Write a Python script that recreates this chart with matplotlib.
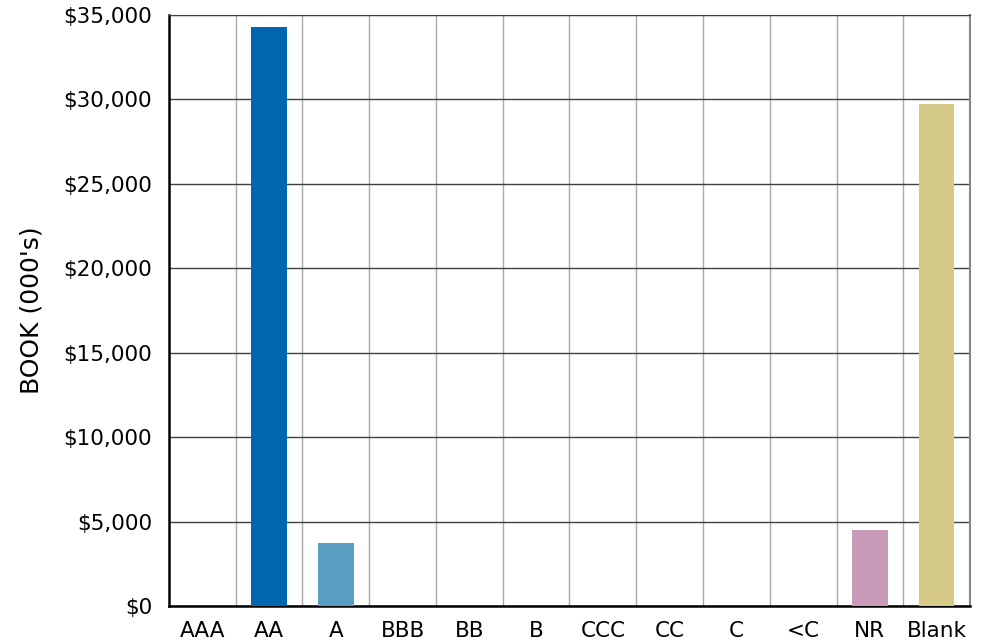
import numpy as np
import matplotlib.pyplot as plt
from matplotlib.ticker import FuncFormatter

categories = ["AAA", "AA", "A", "BBB", "BB", "B", "CCC", "CC", "C", "<C", "NR", "Blank"]
book_values = [0, 34300, 3750, 0, 0, 0, 0, 0, 0, 0, 4500, 29700]
bar_colors = ["#0066AD", "#0066AD", "#5A9EC1", "#0066AD", "#0066AD", "#0066AD",
              "#0066AD", "#0066AD", "#0066AD", "#0066AD", "#C89AB8", "#D4C987"]

plt.rcParams['font.family'] = ['DejaVu Sans']

fig = plt.figure(figsize=(9.84, 6.43), dpi=100)
ax = fig.add_axes([0.1717, 0.0575, 0.8141, 0.9192])

x = np.arange(len(categories))
ax.bar(x, book_values, width=0.53, color=bar_colors, zorder=3)

ax.set_xlim(-0.5, len(categories) - 0.5)
ax.set_ylim(0, 35000)
ax.set_yticks(np.arange(0, 35001, 5000))
ax.yaxis.set_major_formatter(FuncFormatter(lambda v, p: "${:,.0f}".format(v)))
ax.set_xticks(x)
ax.set_xticklabels(categories)
ax.set_xticks(np.arange(0.5, len(categories) - 0.5, 1), minor=True)

ax.grid(axis="y", which="major", color="#404040", linewidth=1.0, zorder=1)
ax.grid(axis="x", which="minor", color="#aaaaaa", linewidth=1.0, zorder=1)
ax.tick_params(axis="both", which="both", length=0, labelsize=15.5, colors="black")
ax.tick_params(axis="x", pad=11)
ax.tick_params(axis="y", pad=12)

ax.spines["left"].set_linewidth(1.8)
ax.spines["bottom"].set_linewidth(1.8)
ax.spines["top"].set_color("#404040")
ax.spines["right"].set_color("#888888")
ax.spines["right"].set_linewidth(1.5)

ax.set_ylabel("BOOK (000's)", fontsize=18, labelpad=14)

fig.savefig("out.png", dpi=100)
